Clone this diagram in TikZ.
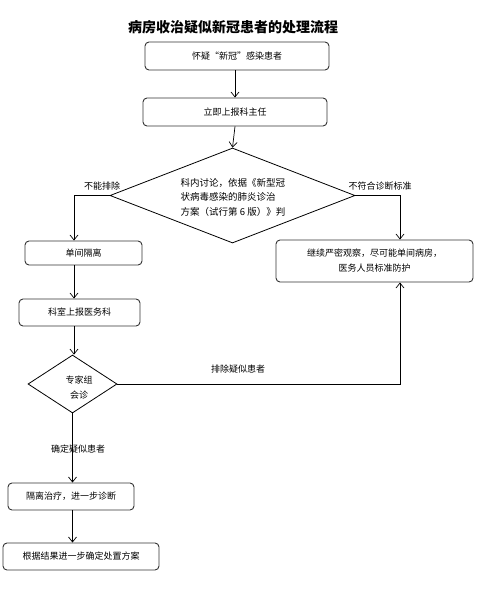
\documentclass[tikz,border=0pt]{standalone}
\usepackage{fontspec}
\setmainfont{Noto Sans CJK SC}
\usetikzlibrary{positioning,shapes.geometric,arrows.meta}

\begin{document}
\begin{tikzpicture}[x=1pt, y=-1pt, font=\fontsize{9}{15}\selectfont,
	stepbox/.style={draw=black!80, line width=0.9pt, rounded corners=4pt, inner sep=0pt, align=center},
	choice/.style={draw, diamond, line width=0.8pt, inner sep=0pt},
	arr/.style={line width=0.7pt, -{Straight Barb[length=5pt,width=8pt]}},
	tag/.style={inner sep=1pt}]

\useasboundingbox (0,0) rectangle (488,616);

\node[font=\fontsize{14}{16}\selectfont\bfseries] (title) at (233,27) {病房收治疑似新冠患者的处理流程};

\node[stepbox, minimum width=184pt, minimum height=28pt] (suspect) at (237,56) {怀疑“新冠”感染患者};
\node[stepbox, minimum width=184pt, minimum height=28pt] (director) at (235,112) {立即上报科主任};
\node[choice, minimum width=245pt, minimum height=95pt] (discuss) at (232.5,195.5) {};
\node[align=left, font=\fontsize{9.5}{14.5}\selectfont] (discusstext) at (233,197) {科内讨论，依据《新型冠\\状病毒感染的肺炎诊治\\方案（试行第 6 版）》判};
\node[stepbox, minimum width=117pt, minimum height=24pt] (single) at (83.5,253) {单间隔离};
\node[stepbox, minimum width=197pt, minimum height=42pt] (observe) at (374.5,261) {继续严密观察，尽可能单间病房，\\医务人员标准防护};
\node[stepbox, minimum width=121pt, minimum height=27pt] (report) at (79.5,312.5) {科室上报医务科};
\node[choice, minimum width=89pt, minimum height=58pt] (expert) at (72.5,384) {};
\node[align=center] (experttext) at (79,388) {专家组\\会诊};
\node[stepbox, minimum width=126pt, minimum height=27pt] (treat) at (71,496.5) {隔离治疗，进一步诊断};
\node[stepbox, minimum width=156pt, minimum height=27pt] (plan) at (81,556.5) {根据结果进一步确定处置方案};

% columns of the side lines
\coordinate (lcol) at (74,0);
\coordinate (rcol) at (400,0);

\draw[arr] (suspect.south -| director.north) -- (director.north);
\draw[arr] (director.south) -- (discuss.north);
\draw[arr] (discuss.west) -| (lcol |- single.north);
\draw[arr] (discuss.east) -| (rcol |- observe.north);
\draw[arr] (lcol |- single.south) -- (lcol |- report.north);
\draw[arr] (report.south -| lcol) -- (lcol |- expert.north);
\draw[arr] (expert.east) -| (rcol |- observe.south);
\draw[arr] (expert.south) -- (expert.south |- treat.north);
\draw[arr] (treat.south -| expert.south) -- (expert.south |- plan.north);

\node[tag] (lbl1) at (102,186) {不能排除};
\node[tag] (lbl2) at (380,186) {不符合诊断标准};
\node[tag] (lbl3) at (238,369) {排除疑似患者};
\node[tag] (lbl4) at (78,449) {确定疑似患者};
\end{tikzpicture}
\end{document}
